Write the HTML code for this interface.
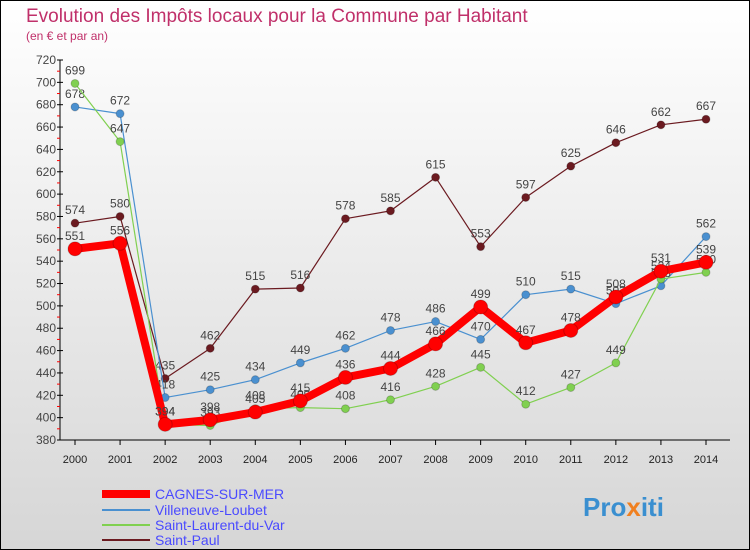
<!DOCTYPE html>
<html><head><meta charset="utf-8"><style>
body{margin:0;width:750px;height:550px;overflow:hidden;font-family:"Liberation Sans",sans-serif}
svg{display:block}
</style></head><body>
<svg id="c" width="750" height="550" xmlns="http://www.w3.org/2000/svg">
<defs><linearGradient id="bg" x1="0" y1="0" x2="0" y2="1"><stop offset="0" stop-color="#ffffff"/><stop offset="1" stop-color="#d6d6d6"/></linearGradient></defs>
<rect x="0.5" y="0.5" width="749" height="549" fill="url(#bg)" stroke="#000"/>
<text x="26" y="22" font-size="19" fill="#c0306a">Evolution des Impôts locaux pour la Commune par Habitant</text>
<text x="26" y="40" font-size="12" fill="#c0306a">(en € et par an)</text>
<g id="axes"></g><g id="series"></g>
<g>
<line x1="102" y1="494" x2="150" y2="494" stroke="#ff0000" stroke-width="8"/>
<text x="155" y="499" font-size="14" fill="#4a4aff">CAGNES-SUR-MER</text>
<line x1="102" y1="510" x2="150" y2="510" stroke="#4a90d0" stroke-width="2"/>
<text x="155" y="515" font-size="14" fill="#4a4aff">Villeneuve-Loubet</text>
<line x1="102" y1="525" x2="150" y2="525" stroke="#80d050" stroke-width="2"/>
<text x="155" y="530" font-size="14" fill="#4a4aff">Saint-Laurent-du-Var</text>
<line x1="102" y1="540" x2="150" y2="540" stroke="#6b1a20" stroke-width="2"/>
<text x="155" y="545" font-size="14" fill="#4a4aff">Saint-Paul</text>
</g>
<text x="583" y="516" font-size="26" font-weight="bold" fill="#3a8fd0">Pro<tspan fill="#f08020">x</tspan>iti</text>
</svg>
<script>
const years=[2000,2001,2002,2003,2004,2005,2006,2007,2008,2009,2010,2011,2012,2013,2014];
const yTicks=[380,400,420,440,460,480,500,520,540,560,580,600,620,640,660,680,700,720];
const cagnes=[551,556,394,398,405,415,436,444,466,499,467,478,508,531,539];
const villeneuve=[678,672,418,425,434,449,462,478,486,470,510,515,502,518,562];
const saintLaurent=[699,647,394,393,408,409,408,416,428,445,412,427,449,524,530];
const saintPaul=[574,580,435,462,515,516,578,585,615,553,597,625,646,662,667];
const NS="http://www.w3.org/2000/svg";
const x=i=>75+i*(706-75)/(years.length-1);
const y=v=>60+(720-v)*380/340;
function mk(t,a,p){const e=document.createElementNS(NS,t);for(const k in a)e.setAttribute(k,a[k]);p.appendChild(e);return e;}
const ax=document.getElementById('axes'),sg=document.getElementById('series');
let l=mk('line',{x1:60,y1:60,x2:60,y2:440,stroke:'#000'},ax);


l=mk('line',{x1:60,y1:440,x2:730,y2:440,stroke:'#000'},ax);


yTicks.forEach(v=>{mk('line',{x1:57,y1:y(v),x2:63,y2:y(v),stroke:'#000'},ax);
 if(v<720)mk('line',{x1:57,y1:y(v+10),x2:60,y2:y(v+10),stroke:'#f00'},ax);
 const t=mk('text',{x:56,y:y(v)+4,'font-size':12,'text-anchor':'end',fill:'#444'},ax);t.textContent=v;
 
 });
years.forEach((yr,i)=>{mk('line',{x1:x(i),y1:440,x2:x(i),y2:445,stroke:'#000'},ax);
 const t=mk('text',{x:x(i),y:463,'font-size':11,'text-anchor':'middle',fill:'#222'},ax);t.textContent=yr;
 
 });
function draw(d,name,col,w,r){
 const g=mk('g',{},sg);
 
 
 const p=mk('polyline',{points:d.map((v,i)=>x(i)+','+y(v)).join(' '),fill:'none',stroke:col,'stroke-width':w,'stroke-linejoin':'round'},g);
 
 
 d.forEach((v,i)=>{const c=mk('circle',{cx:x(i),cy:y(v),r:r,fill:col,stroke:'rgba(0,0,0,0.2)'},g);
  
  
  const t=mk('text',{x:x(i),y:y(v)-9,'font-size':12,'text-anchor':'middle',fill:'#444'},g);t.textContent=v;
  
  });
}
draw(saintPaul,'saint-paul','#6b1a20',1.2,4);
draw(villeneuve,'villeneuve','#4a90d0',1.2,4);
draw(saintLaurent,'saint-laurent','#80d050',1.2,4);
draw(cagnes,'cagnes','#ff0000',8,7);
</script>
</body></html>
